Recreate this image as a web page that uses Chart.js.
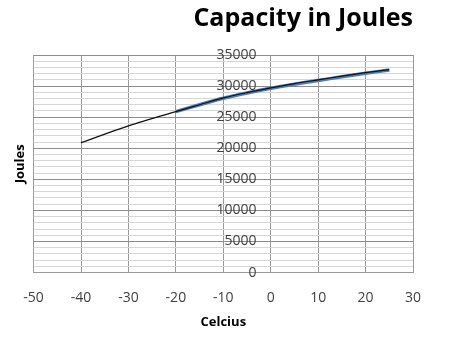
<!DOCTYPE html>
<html>
<head>
<meta charset="utf-8">
<script src="https://cdn.jsdelivr.net/npm/chart.js@4"></script>
<style>
  html, body { margin: 0; padding: 0; background: #fff; }
  #wrap { width: 452px; height: 339px; }
</style>
</head>
<body>
<div id="wrap"><canvas id="capChart" width="452" height="339"></canvas></div>
<script>
// valeurs
const celsius = [-40, -30, -20, -15, -10, -5, 0, 5, 10, 15, 20, 25];
const joules = [20900, 23600, 25900, 27000, 28100, 28950, 29700, 30400, 31000, 31600, 32150, 32650];
const celsiusBlue = [-20, -15, -10, -5, 0, 5, 10, 15, 20, 25];
const joulesBlue = [25900, 27000, 28050, 28900, 29650, 30300, 30900, 31500, 32050, 32600];
const xTicks = [-50, -40, -30, -20, -10, 0, 10, 20, 30];

function toPoints(xs, ys) {
    return xs.map((x, i) => ({ x: x, y: ys[i] }));
}

const ctx = document.getElementById('capChart').getContext('2d');

new Chart(ctx, {
    type: 'line',
    data: {
        datasets: [
            {
                label: 'noir',
                data: toPoints(celsius, joules),
                xAxisID: 'x',
                yAxisID: 'y',
                borderColor: '#111111',
                borderWidth: 1.2,
                pointRadius: 0,
                tension: 0.3,
                fill: false
            },
            {
                label: 'bleu',
                data: toPoints(celsiusBlue, joulesBlue),
                xAxisID: 'x',
                yAxisID: 'y',
                borderColor: '#4a7ebb',
                borderWidth: 3.5,
                pointRadius: 0,
                tension: 0.3,
                fill: false
            }
        ]
    },
    options: {
        responsive: false,
        animation: false,
        layout: { padding: { left: 4, right: 39, top: 4, bottom: 9 } },
        plugins: {
            legend: { display: false },
            tooltip: { enabled: false },
            title: {
                display: true,
                text: 'Capacity in Joules',
                align: 'end',
                color: '#000',
                font: { family: 'Open Sans', size: 25, weight: 'bold' },
                padding: { top: 0, bottom: 21 }
            }
        },
        scales: {
            x: {
                type: 'linear',
                min: -50,
                max: 30,
                afterBuildTicks: scale => { scale.ticks = xTicks.map(v => ({ value: v })); },
                grid: { color: '#999999', drawTicks: false },
                border: { color: '#999999' },
                ticks: { color: '#404040', padding: 17, font: { family: 'Open Sans', size: 14 } },
                title: {
                    display: true,
                    text: 'Celcius',
                    color: '#000',
                    font: { family: 'Open Sans', size: 13, weight: 'bold' },
                    padding: { top: -9, bottom: 0 }
                }
            },
            yTitle: {
                type: 'linear',
                position: 'left',
                min: 0,
                max: 1,
                grid: { display: false, drawTicks: false },
                border: { display: false },
                ticks: { display: false },
                title: {
                    display: true,
                    text: 'Joules',
                    color: '#000',
                    font: { family: 'Open Sans', size: 13, weight: 'bold' },
                    padding: { top: 8, bottom: 6 }
                }
            },
            y: {
                type: 'linear',
                position: { x: -3 },
                min: 0,
                max: 35000,
                ticks: {
                    stepSize: 1000,
                    autoSkip: false,
                    color: '#404040',
                    padding: 15,
                    font: { family: 'Open Sans', size: 14 },
                    callback: v => (v % 5000 === 0 ? v : '')
                },
                grid: {
                    drawTicks: false,
                    color: c => (c.tick && c.tick.value % 5000 === 0 ? '#8c8c8c' : '#d6d6d6')
                },
                border: { display: false }
            }
        }
    }
});
</script>
</body>
</html>
